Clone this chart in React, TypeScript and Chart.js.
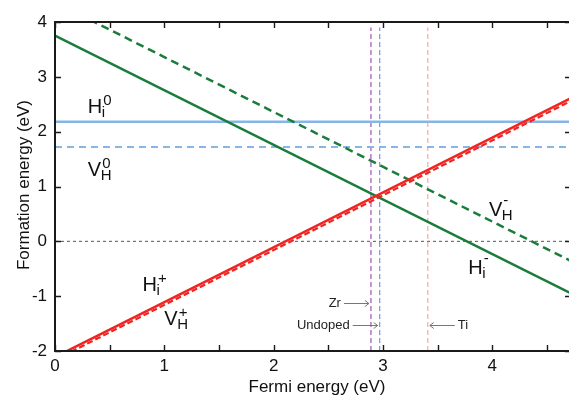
import React, { useEffect, useRef } from 'react';
import { Chart, registerables } from 'chart.js';
Chart.register(...registerables);

// ---- data ----
const fermiRange = [0, 4.72];
const xMin = 0, xMax = 4.72, yMin = -2, yMax = 4;
const xTickValues = [0, 0.5, 1, 1.5, 2, 2.5, 3, 3.5, 4, 4.5];
const yTickValues = [-2, -1, 0, 1, 2, 3, 4];
const hiPlus = [-2.11, 2.61];
const vhPlus = [-2.16, 2.56];
const hiMinus = [3.75, -0.95];
const vhMinus = [4.36, -0.36];
const hiZero = [2.18, 2.18];
const vhZero = [1.72, 1.72];
const zeroRef = [0, 0];
const dopantNames = ['Zr', 'Undoped', 'Ti'];
const dopantFermi = [2.89, 2.97, 3.41];
const dopantColors = ['#9a55b0', '#7d8fdc', '#f6a9a9'];
const dopantSpan = [yMin, 3.9];
const dopantLabelY = [-1.13, -1.53, -1.53];
const dopantLabelSide = ['left', 'left', 'right'];

const labelMain = ['H', 'V', 'H', 'V', 'V', 'H'];
const labelSub = ['i', 'H', 'i', 'H', 'H', 'i'];
const labelSup = ['0', '0', '+', '+', '-', '-'];
const labelX = [0.30, 0.30, 0.80, 1.00, 3.97, 3.78];
const labelY = [2.34, 1.20, -0.91, -1.53, 0.47, -0.60];

const GREEN = '#1b7d3c';
const RED = '#f02420';
const BLUE = '#86b6e6';
const AXIS = '#1a1a1a';
const FONT = '"Liberation Sans", Arial, Helvetica, sans-serif';

const pts = (ys: number[]) => fermiRange.map((x, i) => ({ x, y: ys[i] }));

const overlay = {
  id: 'overlay',
  afterDraw(chart: any) {
    const ctx = chart.ctx as CanvasRenderingContext2D;
    const x = chart.scales.x, y = chart.scales.y;
    const a = chart.chartArea;
    ctx.save();
    // frame and inward ticks, drawn from the scales
    ctx.strokeStyle = AXIS;
    ctx.lineWidth = 2;
    ctx.beginPath();
    ctx.moveTo(a.left, a.top);
    ctx.lineTo(a.right, a.top);
    ctx.lineTo(a.right, a.bottom);
    ctx.lineTo(a.left, a.bottom);
    ctx.closePath();
    ctx.stroke();
    ctx.lineWidth = 1.4;
    ctx.beginPath();
    xTickValues.forEach((v) => {
      const px = Math.round(x.getPixelForValue(v)) + 0.5;
      ctx.moveTo(px, a.bottom); ctx.lineTo(px, a.bottom - 6);
      ctx.moveTo(px, a.top); ctx.lineTo(px, a.top + 6);
    });
    yTickValues.forEach((v) => {
      const py = Math.round(y.getPixelForValue(v)) + 0.5;
      ctx.moveTo(a.left, py); ctx.lineTo(a.left + 6, py);
      ctx.moveTo(a.right, py); ctx.lineTo(a.right - 6, py);
    });
    ctx.stroke();
    // axis titles
    ctx.fillStyle = '#111';
    ctx.font = `17px ${FONT}`;
    ctx.textAlign = 'center';
    ctx.textBaseline = 'alphabetic';
    ctx.fillText('Fermi energy (eV)', 317, 392);
    ctx.save();
    ctx.translate(29, 185);
    ctx.rotate(-Math.PI / 2);
    ctx.fillText('Formation energy (eV)', 0, 0);
    ctx.restore();
    // series labels
    ctx.textAlign = 'left';
    labelMain.forEach((m, i) => {
      const px = x.getPixelForValue(labelX[i]);
      const py = y.getPixelForValue(labelY[i]);
      ctx.font = `20px ${FONT}`;
      ctx.fillText(m, px, py);
      const w = ctx.measureText(m).width;
      ctx.font = `15px ${FONT}`;
      ctx.fillText(labelSub[i], px + w - 0.5, py + 4);
      const s = labelSup[i];
      ctx.fillText(s, px + w + 1, py - (s === '-' ? 11 : 8));
    });
    // dopant annotations
    ctx.font = `13px ${FONT}`;
    ctx.textBaseline = 'middle';
    dopantNames.forEach((n, i) => {
      const lx = x.getPixelForValue(dopantFermi[i]);
      const py = Math.round(y.getPixelForValue(dopantLabelY[i])) + 0.5;
      const left = dopantLabelSide[i] === 'left';
      const tip = left ? lx - 2 : lx + 2;
      const tail = left ? tip - 25 : tip + 25;
      ctx.strokeStyle = '#777';
      ctx.lineWidth = 1;
      ctx.beginPath(); ctx.moveTo(tail, py); ctx.lineTo(tip, py); ctx.stroke();
      const d = left ? -4 : 4;
      ctx.beginPath();
      ctx.moveTo(tip + d, py - 3); ctx.lineTo(tip, py); ctx.lineTo(tip + d, py + 3);
      ctx.stroke();
      ctx.fillStyle = '#222';
      ctx.textAlign = left ? 'right' : 'left';
      ctx.fillText(n, left ? tail - 3 : tail + 3, py);
    });
    ctx.restore();
  },
};

export default function App() {
  const ref = useRef<HTMLCanvasElement>(null);
  useEffect(() => {
    if (!ref.current) return;
    const line = (data: any, color: string, width: number, dash: number[] = [], order = 1) => ({
      data, borderColor: color, backgroundColor: color, borderWidth: width, borderDash: dash,
      showLine: true, pointRadius: 0, fill: false, order,
    });
    const datasets: any[] = [
      line(pts(zeroRef), '#555', 1, [3, 3], 10),
      ...dopantFermi.map((f, i) => line(dopantSpan.map((v) => ({ x: f, y: v })), dopantColors[i], 1.2, [5, 3], 9)),
      line(pts(hiZero), BLUE, 2.5, [], 5),
      line(pts(vhZero), BLUE, 2.2, [7, 5], 5),
      line(pts(vhMinus), GREEN, 2.5, [8, 5], 3),
      line(pts(hiMinus), GREEN, 2.5, [], 3),
      line(pts(vhPlus), RED, 2.2, [6, 3], 2),
      line(pts(hiPlus), RED, 2.5, [], 1),
    ];
    const chart = new Chart(ref.current, {
      type: 'scatter',
      data: { datasets },
      plugins: [overlay],
      options: {
        animation: false,
        responsive: false,
        devicePixelRatio: 1,
        layout: { padding: { top: 22, right: 14, left: 0, bottom: 0 } },
        plugins: { legend: { display: false }, tooltip: { enabled: false } },
        scales: {
          x: {
            type: 'linear', min: xMin, max: xMax,
            afterFit: (s: any) => { s.height = 48; },
            grid: { display: false, drawTicks: false, tickLength: 0 },
            border: { display: true, color: AXIS, width: 2 },
            ticks: {
              stepSize: 0.5, includeBounds: false, autoSkip: false, maxRotation: 0,
              padding: 5, color: '#111', font: { family: FONT, size: 17 },
              callback: (v: any) => (Number.isInteger(Number(v)) ? String(v) : ''),
            },
          },
          y: {
            type: 'linear', min: yMin, max: yMax,
            afterFit: (s: any) => { s.width = 55; },
            grid: { display: false, drawTicks: false, tickLength: 0 },
            border: { display: true, color: AXIS, width: 2 },
            ticks: {
              stepSize: 1, padding: 8, color: '#111', font: { family: FONT, size: 17 },
              callback: (v: any) => String(v),
            },
          },
        },
      },
    });
    return () => chart.destroy();
  }, []);
  return (
    <div style={{ position: 'fixed', left: 0, top: 0, width: 569, height: 399, overflow: 'hidden', background: '#fff' }}>
      <canvas ref={ref} width={585} height={399} style={{ display: 'block' }} />
      <div
        style={{
          position: 'absolute', left: 54, top: 21, width: 518, height: 331,
          border: `2px solid ${AXIS}`, boxSizing: 'border-box', pointerEvents: 'none',
        }}
      />
    </div>
  );
}
